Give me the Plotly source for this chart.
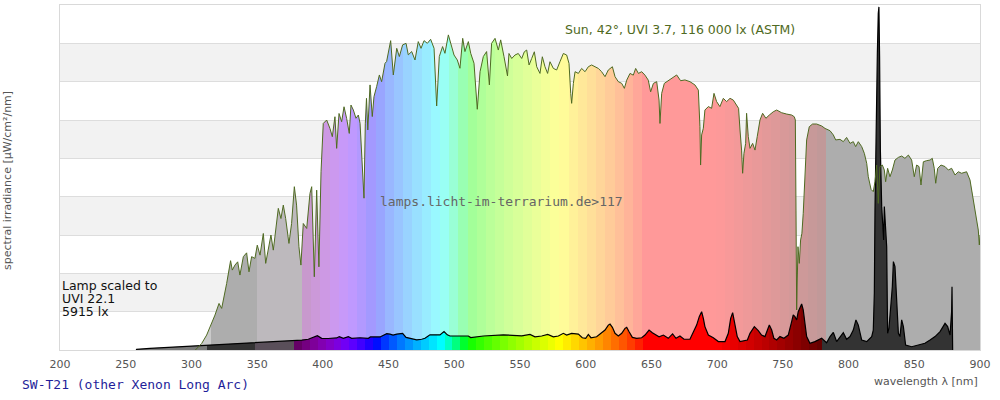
import plotly.graph_objects as go

# ---------------- data (µW/cm²/nm) ----------------
sun_wl = [303, 307.8, 311.6, 314.9, 317.9, 321, 323, 326.8, 328, 329.8, 331.1, 333.1, 335.2, 336.9,
          339.5, 342, 343.8, 345.8, 348.3, 350.1, 352.2, 354.7, 356.5, 358.5, 360.5, 362.3, 363.6,
          366.1, 368.1, 369.9, 371.7, 374.2, 376.2, 378.3, 380, 381.8, 383.3, 385.1, 387.7, 390.2,
          391.5, 393.5, 395.3, 397.0, 398.6, 400.3, 402.9, 405.4, 407.2, 409.2, 410.5, 412.3, 414.3,
          416.1, 418.1, 420.1, 421.4, 423.2, 425.2, 427, 428.3, 429.5, 431.3, 432.3, 433.2, 434.2,
          435.9, 437.6, 438.9, 440.9, 443, 444.7, 447.3, 448.5, 451.6, 453.6, 456.2, 458.2, 460.7,
          463.3, 465, 467.6, 470.1, 472.6, 474.7, 477, 479.5, 482, 484.6, 486.6, 488.6, 491.1, 492.9,
          495.5, 498, 499.8, 502.3, 504.3, 506.4, 508.1, 510.7, 512.5, 515, 517.5, 519.6, 522.1,
          524.6, 526.7, 528.4, 531, 533.5, 535.3, 537.8, 540.5, 541.6, 543.7, 546.2, 548.7, 551.3,
          553.3, 555.1, 556.9, 558.9, 560.9, 562.7, 565.2, 567, 569, 571, 572.8, 575.4, 577.9, 580.4,
          583, 585.5, 587.3, 588.6, 589.3, 590.6, 591.9, 594.4, 596.9, 599.5, 602, 604.5, 607.1,
          609.6, 612.1, 614.7, 617.2, 620.3, 622.3, 624.8, 627.4, 629.4, 631.2, 633.7, 636.2, 638,
          640.1, 642.6, 645.1, 647.6, 649.4, 651.5, 654, 655.8, 656.5, 657.8, 659.8, 661.6, 665.4,
          669.2, 672.2, 675.5, 679.3, 683.1, 685.7, 686.9, 687.4, 688.2, 689.5, 690.7, 693.3, 695.8,
          697.6, 699.6, 702.1, 704.7, 707.2, 709.8, 712.3, 714.8, 716.3, 717.4, 718.6, 719.4, 720.4,
          721.7, 722.4, 723.7, 725, 727, 728.8, 730.5, 732.6, 734.6, 737.1, 739.7, 742.7, 745.3,
          749.1, 752.9, 756.7, 758.7, 759.5, 760, 760.5, 761.5, 762.5, 763.5, 764.5, 765.5, 766.8,
          768.1, 770.1, 772.6, 775.7, 779.5, 782.1, 785.9, 788.4, 790.2, 793.5, 796, 798.5, 801.1,
          803.6, 805.4, 807.4, 810, 812, 813.8, 815, 817.1, 818.8, 820.1, 821.4, 822.6, 823.9, 825.7,
          827.2, 828.2, 829.7, 831.5, 833.3, 835.3, 837.9, 840.4, 842.9, 845.5, 848, 850, 851.8,
          853.6, 855.1, 856.9, 859.4, 862, 863.7, 865.2, 866.3, 867.8, 870.3, 873.4, 875.9, 878.4,
          881, 883.5, 886, 889.8, 892.4, 894.2, 896.2, 897.4, 898.7, 899.5, 900]
sun_val = [0, 3.4, 7.8, 13.0, 18.2, 24.3, 21.7, 34.7, 40, 46.6, 41.7, 44.3, 46.0, 39.1,
           48.7, 50.7, 40.8, 48.7, 47.8, 54.7, 49.5, 60.8, 45.2, 52.1, 60, 52.1, 59.1,
           73.9, 68.6, 75.6, 68.6, 55.6, 66.0, 85.2, 75.6, 53.9, 44.3, 66.0, 63.4, 81.7,
           85.2, 38.2, 83.4, 43.4, 93.0, 118.2, 120, 115.6, 111.3, 121.7, 105.2, 123.4, 119.1,
           126.9, 120.8, 113.0, 127.8, 125.2, 120.9, 122.6, 118.3, 102.6, 79.2, 118, 131.3, 114.8,
           138.3, 121.8, 132.2, 137.4, 143.5, 140, 149.6, 150.5, 161.4, 143.5, 157.4, 153.1, 159.2,
           160, 154, 155.7, 151.3, 160.9, 157.4, 161.4, 160, 162.1, 157.4, 127.3, 153.1, 158.3, 154.8,
           164.4, 157.4, 153.9, 151.3, 147, 162.6, 155.7, 160.9, 154.8, 149.6, 125.6, 145.2, 153.1,
           155.7, 138.3, 160, 162.6, 156.5, 161.8, 153.1, 143, 154.7, 152.1, 153.9, 154.7, 152.1,
           155.6, 156.5, 148.7, 152.1, 155.6, 147.8, 144.3, 153, 147.8, 144.3, 150.4, 146.9, 146.1, 150.4,
           154.7, 153.9, 149.5, 133.9, 128.7, 139.1, 145.2, 144.3, 146.9, 145.2, 147.8, 148.7, 147.8,
           146.9, 145.2, 142.6, 146.1, 147.8, 142.6, 140, 139.1, 136.5, 140.8, 144.3, 143.4, 146.9,
           144.3, 145.2, 143.4, 140.8, 134.7, 139.1, 140, 130.4, 118.2, 133.9, 139.1, 140, 141.7,
           143.5, 140.5, 140.9, 140, 138.3, 135.6, 116.5, 96.5, 112.2, 115.7, 125.2, 127, 126.1,
           133.9, 129.6, 127, 131.3, 129.6, 131.3, 130.4, 127.8, 126.1, 114.8, 104.3, 92.2, 102.6,
           107.8, 123.5, 111.3, 105.2, 107.8, 104.3, 111.3, 120, 123.5, 120.9, 122.6, 124.3, 125.2,
           123.8, 123.1, 122.6, 121.7, 120, 73, 20.9, 53.9, 45.2, 57.4, 60.9, 71.3, 88.7,
           109.6, 116.5, 117.9, 117.9, 116.9, 115.6, 114.4, 112.2, 109.6, 109.9, 108.7, 110.9, 107.8,
           108.7, 106.1, 108.7, 106.1, 102.6, 97.4, 90.4, 83.8, 82.6, 87.8, 96.5, 76.5, 95.7, 96.5,
           93.9, 87.8, 94.8, 90.4, 93.9, 99.1, 100.5, 101.2, 100, 101.7, 99.1, 90.4, 96.5,
           95.7, 86.1, 98.2, 98.8, 99.1, 100, 94.8, 87, 94.8, 96.5, 95.7, 93.9, 94.8,
           91.3, 93, 92.2, 93, 88.7, 81.7, 73, 67.8, 62.6, 54.8, 60]

lamp_wl = [258, 258.3, 268.5, 283.7, 297.6, 311.6, 331.9, 348.4, 367.4, 377.5, 384, 388.9, 392.7,
           395.8, 399.1, 404, 410.5, 412.5, 415.6, 419.4, 421.9, 428.3, 434.6, 436.2, 443.5, 448.6,
           451.1, 453.4, 456.2, 458.5, 460.7, 463.3, 467.6, 471.4, 475.2, 477.7, 481.5, 486.1, 489.1,
           492.2, 494.7, 496.7, 510.7, 512.5, 522.1, 537.3, 551.3, 557.6, 561.4, 566.5, 571.1, 575.4,
           579.2, 583, 585.5, 589.3, 594.4, 597.4, 600, 602, 604, 608.3, 612.1, 614.7, 617.2, 618.5,
           620.3, 622.3, 624.8, 627.4, 629.9, 631.2, 633, 635.5, 638.8, 642.6, 645.1, 648.2, 650.7,
           653.2, 655.8, 659.1, 662.8, 666.1, 668.7, 671.7, 674.8, 679.3, 681.9, 684.4, 686.4, 688.2,
           689.5, 690.7, 693.3, 697.1, 700.9, 706, 708.5, 710.3, 711.8, 713.6, 715.3, 717.4, 723, 725,
           728.3, 731.3, 733.8, 736.4, 738.2, 739.7, 741.5, 743.2, 745.3, 747.8, 750.8, 754.1, 756.7,
           757.9, 759.2, 760.5, 761.7, 763, 764.3, 765.5, 766.8, 768.1, 770.6, 774.4, 779.5, 783.3,
           785.9, 788.4, 790.9, 793.5, 796, 798.5, 801.1, 803.6, 805.6, 807.4, 810, 813.8, 817.6,
           818.8, 819.6, 820.1, 821.1, 821.9, 822.6, 823.1, 823.6, 824.2, 825.2, 825.9, 826.7, 827.2,
           828.2, 829, 829.7, 830.7, 832.3, 833.3, 834.1, 835.3, 836.6, 837.9, 839.1, 840.4, 841.7,
           843.4, 848, 853.1, 858.1, 862, 865.8, 869.6, 873.4, 875.4, 877.2, 878.4, 878.7, 879.2]
lamp_val = [0, 0.35, 0.87, 1.4, 2.1, 2.6, 3.1, 3.8, 4.3, 4.9, 5.2, 5.6, 6.6,
            7.5, 6.1, 6.0, 6.3, 7.0, 6.1, 7.0, 6.1, 6.4, 6.1, 6.8, 6.8, 8.5,
            8.3, 7.8, 8.3, 8.4, 8.7, 6.6, 5.8, 5.3, 5.6, 6.1, 7.9, 7.9, 7.9,
            9.6, 7.9, 7.3, 7.3, 6.5, 7.3, 7.9, 7.4, 8.1, 6.9, 7.3, 8.1, 6.9,
            7.3, 8.7, 7.8, 8.7, 8.3, 6.4, 6.1, 8.1, 6.4, 6.9, 8.7, 10.4, 13, 13.5,
            11.8, 8.7, 7.3, 8.7, 11.3, 11.8, 9.5, 6.6, 6.1, 6.4, 7.8, 10.4, 9,
            7.8, 6.9, 7.8, 6.1, 8.4, 6.1, 7.3, 5.6, 5.6, 9.1, 13, 17.4, 20,
            16.5, 12.2, 7.8, 6.4, 4.4, 4.4, 8.7, 16.5, 19.5, 13.9, 7, 4.4, 5.2, 8.7,
            12.2, 10.1, 7.8, 7, 10.4, 13, 10.4, 6.1, 5.2, 7, 6.1, 7.8, 14.8,
            18.3, 17.4, 15.7, 20, 21.7, 24, 20.9, 13, 7, 3.5, 4.4, 6.1, 3.8,
            7, 9.2, 4.4, 7, 9, 5.6, 7, 10.4, 15.7, 13, 5.2, 4.4, 7,
            10.4, 29.6, 73, 133, 154.8, 175.6, 179, 153, 104.3, 74.8, 66.1, 57.4, 74.8,
            64.3, 53.9, 8.7, 11.3, 24.4, 33.1, 46.1, 43.5, 26.1, 8.7, 7, 15.7, 12.2,
            2.6, 1.7, 2.6, 3.5, 5.2, 7, 9.6, 13.9, 12.2, 7.8, 20, 33, 0]

x_ticks = [200, 250, 300, 350, 400, 450, 500, 550, 600, 650, 700, 750, 800, 850, 900]

sun_label = "Sun, 42°, UVI 3.7, 116 000 lx (ASTM)"
lamp_label = ["Lamp scaled to", "UVI 22.1", "5915 lx"]
lamp_name = "SW-T21 (other Xenon Long Arc)"
watermark = "lamps.licht-im-terrarium.de>117"

X0, X1 = 200, 900


# ---------------- colours ----------------
def spec_rgb(w):
    w = max(380.0, min(780.0, w))
    if w < 440:
        r, g, b = -(w - 440) / 60, 0.0, 1.0
    elif w < 490:
        r, g, b = 0.0, (w - 440) / 50, 1.0
    elif w < 510:
        r, g, b = 0.0, 1.0, -(w - 510) / 20
    elif w < 580:
        r, g, b = (w - 510) / 70, 1.0, 0.0
    elif w < 645:
        r, g, b = 1.0, -(w - 645) / 65, 0.0
    else:
        r, g, b = 1.0, 0.0, 0.0
    if w < 420:
        f = 0.3 + 0.7 * (w - 380) / 40
    elif w <= 700:
        f = 1.0
    else:
        f = 0.3 + 0.7 * (780 - w) / 80
    return tuple(int(round(255 * (c * f) ** 0.8)) if c > 0 else 0 for c in (r, g, b))


def pale(rgb, a=0.4):
    return tuple(int(round(a * c + (1 - a) * 255)) for c in rgb)


def css(rgb):
    return "rgb(%d,%d,%d)" % rgb


def hex_rgb(h):
    h = h.lstrip("#")
    return tuple(int(h[i:i + 2], 16) for i in (0, 2, 4))


def stripe_scale(parts):
    cs = []
    for a, b, col in parts:
        cs.append([(a - X0) / (X1 - X0), col])
        cs.append([(b - X0) / (X1 - X0), col])
    cs[0][0] = 0.0
    cs[-1][0] = 1.0
    return cs


def visible_stripes(start, step, end, colfun):
    parts = []
    a = start
    while a < end - 1e-6:
        b = min(a + step, end)
        parts.append((a, b, css(colfun((a + b) / 2))))
        a = b
    return parts


lamp_parts = [(X0, 312, css(hex_rgb("#7a7a7a"))), (312, 348, css(hex_rgb("#333333"))),
              (348, 378, css(hex_rgb("#5a4f5a")))]
lamp_parts += visible_stripes(378, 6.03, 780, spec_rgb)
lamp_parts += [(780, X1, css(hex_rgb("#333333")))]

sun_parts = [(X0, 315, css(pale(hex_rgb("#7a7a7a")))), (315, 350, css(pale(hex_rgb("#333333")))),
             (350, 384.2, css(pale(hex_rgb("#5a4f5a"))))]
sun_parts += visible_stripes(384.2, 6.993, 782.8, lambda w: pale(spec_rgb(w)))
sun_parts += [(782.8, X1, css(pale(hex_rgb("#333333"))))]

fig = go.Figure()

fig.add_trace(go.Scatter(
    x=sun_wl, y=sun_val, mode="none", fill="tozeroy",
    fillgradient=dict(type="horizontal", colorscale=stripe_scale(sun_parts), start=X0, stop=X1),
    hoverinfo="skip", showlegend=False))

fig.add_trace(go.Scatter(
    x=lamp_wl, y=lamp_val, mode="lines", fill="tozeroy",
    line=dict(color="#000000", width=1.2),
    fillgradient=dict(type="horizontal", colorscale=stripe_scale(lamp_parts), start=X0, stop=X1),
    hoverinfo="skip", showlegend=False))

fig.add_trace(go.Scatter(
    x=sun_wl, y=sun_val, mode="lines",
    line=dict(color="#4f6a22", width=1),
    hoverinfo="skip", showlegend=False))

# alternating background bands
shapes = []
for y0 in (20, 60, 100, 140):
    shapes.append(dict(type="rect", xref="paper", yref="y", x0=0, x1=1, y0=y0, y1=y0 + 20,
                       fillcolor="#f2f2f2", line=dict(width=0), layer="below"))

ann = [
    dict(x=760.8, y=167, xref="x", yref="y", text=sun_label, showarrow=False,
         xanchor="right", yanchor="middle",
         font=dict(family="DejaVu Sans", size=12.5, color="#4f6a22")),
    dict(x=441.9, y=77.7, xref="x", yref="y", text=watermark, showarrow=False,
         xanchor="left", yanchor="middle",
         font=dict(family="DejaVu Sans Mono", size=13, color="#666666")),
    dict(x=-0.0565, y=0.49, xref="paper", yref="paper", text="spectral irradiance [µW/cm²/nm]",
         textangle=-90, showarrow=False, xanchor="center", yanchor="middle",
         font=dict(family="DejaVu Sans", size=11, color="#555555")),
    dict(x=1.0, y=-0.09, xref="paper", yref="paper", text="wavelength λ [nm]",
         showarrow=False, xanchor="right", yanchor="middle",
         font=dict(family="DejaVu Sans", size=11, color="#555555")),
    dict(x=-0.0435, y=-0.101, xref="paper", yref="paper", text=lamp_name,
         showarrow=False, xanchor="left", yanchor="middle",
         font=dict(family="DejaVu Sans Mono", size=13, color="#1f1f9a")),
]
for i, (t, yv) in enumerate(zip(lamp_label, (33.9, 27.1, 20.3))):
    ann.append(dict(x=0, y=yv, xref="paper", yref="y", text=t, showarrow=False,
                    xanchor="left", yanchor="middle",
                    font=dict(family="DejaVu Sans", size=12.5, color="#111111")))

fig.update_layout(
    width=1000, height=400, autosize=False,
    margin=dict(l=60, r=20, t=5, b=50),
    paper_bgcolor="white", plot_bgcolor="white",
    shapes=shapes, annotations=ann,
    font=dict(family="DejaVu Sans"),
    hovermode=False,
    xaxis=dict(range=[X0, X1], tickvals=x_ticks, ticks="", showgrid=False, zeroline=False,
               showline=True, linecolor="#d9d9d9", linewidth=1, mirror=True,
               ticklabelstandoff=4,
               tickfont=dict(family="DejaVu Sans", size=11, color="#555555")),
    yaxis=dict(range=[0, 180], dtick=20, showticklabels=False, ticks="", showgrid=True,
               gridcolor="#dddddd", gridwidth=1, zeroline=False,
               showline=True, linecolor="#d9d9d9", linewidth=1, mirror=True),
)

fig.write_html("out.html", config={"displayModeBar": False},
               post_script="document.body.style.margin='0px';")
